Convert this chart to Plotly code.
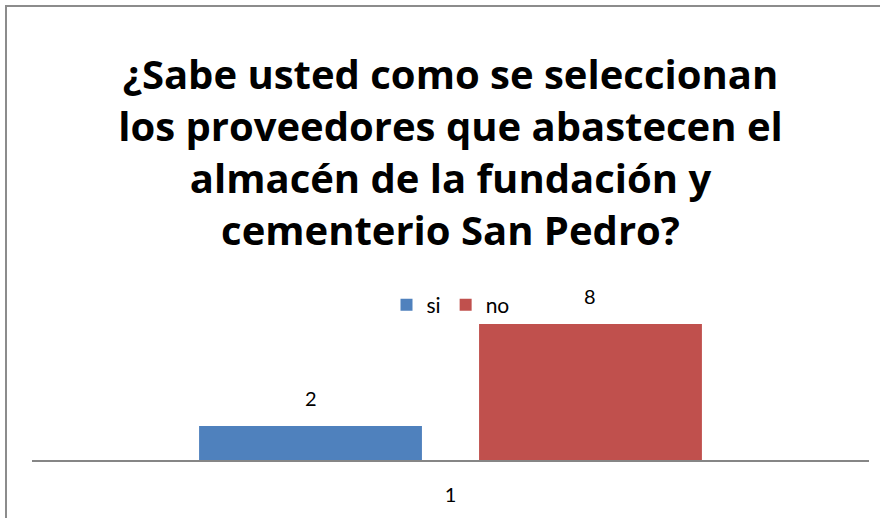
import plotly.graph_objects as go

categories = ["1"]
series_names = ["si", "no"]
si_values = [2]
no_values = [8]
colors = ["#4F81BD", "#C0504D"]
title_lines = ["¿Sabe usted como se seleccionan",
               "los proveedores que abastecen el",
               "almacén de la fundación y",
               "cementerio San Pedro?"]

W, H = 880, 518
ML, MR, MT, MB = 32, 11, 290, 58
BARGAP = 0.331
BARGROUPGAP = 0.204

fig = go.Figure()
for name, vals, col in zip(series_names, [si_values, no_values], colors):
    fig.add_trace(go.Bar(x=categories, y=vals, name=name, marker_color=col,
                         marker_line_width=0))

# data labels above bars
n = len(series_names)
slot = (1 - BARGAP) / n
for i, vals in enumerate([si_values, no_values]):
    off = -(1 - BARGAP) / 2 + slot * (i + 0.5)
    for ci, v in enumerate(vals):
        fig.add_annotation(x=ci + off, y=v, xref="x", yref="y", text=str(v),
                           showarrow=False, yshift=28, yanchor="middle",
                           font=dict(family="Lato", size=20, color="#000"))

pw = W - ML - MR
ph = H - MT - MB
# chart border
fig.add_shape(type="rect", xref="paper", yref="paper",
              x0=(6 - ML) / pw, x1=(W + 20 - ML) / pw,
              y0=-(H + 20 - MT - ph) / ph, y1=(H - 6 - MB) / ph,
              line=dict(color="#8C8C8C", width=2), layer="below")

fig.update_layout(
    width=W, height=H,
    margin=dict(l=ML, r=MR, t=MT, b=MB),
    paper_bgcolor="white", plot_bgcolor="white",
    barmode="group", bargap=BARGAP, bargroupgap=BARGROUPGAP,
    title=dict(text="<br>".join(title_lines), x=0.5, xanchor="center",
               xref="paper", y=(H - 89) / H, yanchor="top",
               font=dict(family="Open Sans", size=40, color="#000", weight="bold")),
    legend=dict(orientation="h", x=0.5, xanchor="center", y=(H - MB - 305) / ph,
                yanchor="middle", bgcolor="rgba(0,0,0,0)",
                font=dict(family="Lato", size=21, color="#000")),
    xaxis=dict(showline=True, linecolor="#868686", linewidth=2, showgrid=False,
               ticks="", ticklabelstandoff=16,
               tickfont=dict(family="Lato", size=20, color="#000")),
    yaxis=dict(range=[0, 10], visible=False, showgrid=False, zeroline=False),
    font=dict(family="Lato"),
)

fig.write_html("out.html", config={"displayModeBar": False},
               post_script="document.body.style.margin='0';document.body.style.padding='0';")
